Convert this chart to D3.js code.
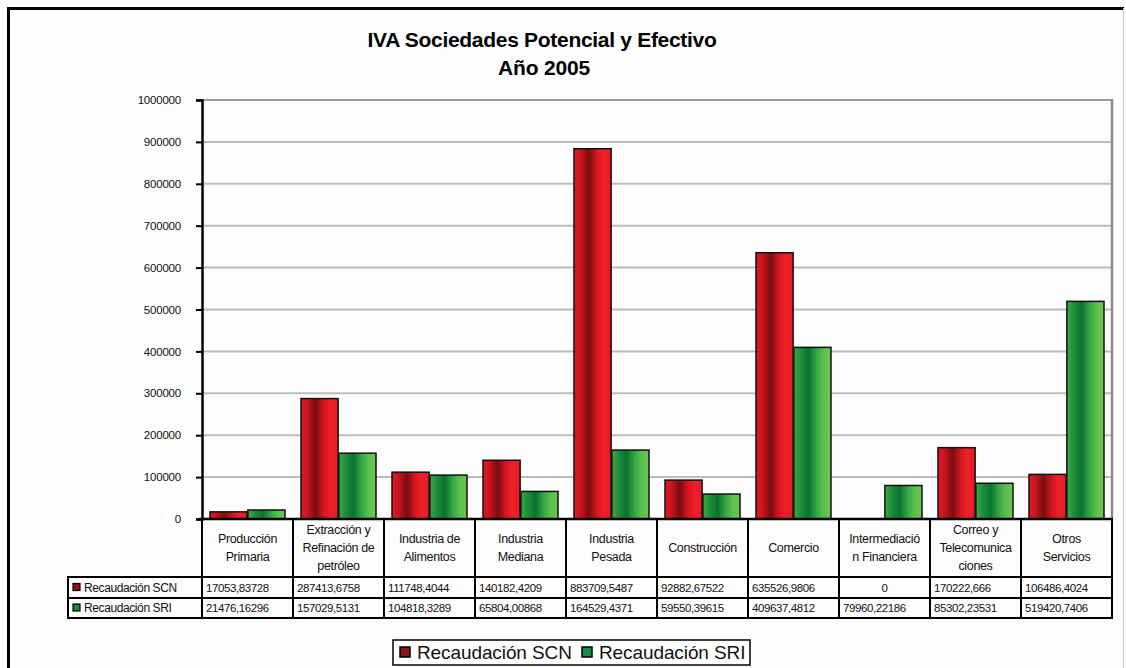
<!DOCTYPE html>
<html>
<head>
<meta charset="utf-8">
<script src="https://cdn.jsdelivr.net/npm/d3@7"></script>
<style>
  html, body { margin: 0; padding: 0; background: #fdfdfd; }
  svg { display: block; font-family: "Liberation Sans", Arial, sans-serif; }
</style>
</head>
<body>
<svg id="chart" width="1126" height="668"></svg>
<script>
// Sectores económicos (texto de cabecera de la tabla, por líneas)
const categories = [
  "Producción Primaria",
  "Extracción y Refinación de petróleo",
  "Industria de Alimentos",
  "Industria Mediana",
  "Industria Pesada",
  "Construcción",
  "Comercio",
  "Intermediación Financiera",
  "Correo y Telecomunicaciones",
  "Otros Servicios"
];
const categoryLines = [
  ["Producción", "Primaria"],
  ["Extracción y", "Refinación de", "petróleo"],
  ["Industria de", "Alimentos"],
  ["Industria", "Mediana"],
  ["Industria", "Pesada"],
  ["Construcción"],
  ["Comercio"],
  ["Intermediació", "n Financiera"],
  ["Correo y", "Telecomunica", "ciones"],
  ["Otros", "Servicios"]
];
const seriesNames = ["Recaudación SCN", "Recaudación SRI"];
const recaudacionSCN = [17053.83728, 287413.6758, 111748.4044, 140182.4209, 883709.5487,
                        92882.67522, 635526.9806, 0, 170222.666, 106486.4024];
const recaudacionSRI = [21476.16296, 157029.5131, 104818.3289, 65804.00868, 164529.4371,
                        59550.39615, 409637.4812, 79960.22186, 85302.23531, 519420.7406];
const yTicks = [0, 100000, 200000, 300000, 400000, 500000, 600000, 700000, 800000, 900000, 1000000];

const svg = d3.select("#chart");
const W = 1126, H = 668;
const plot = { left: 202, right: 1112, top: 100, bottom: 519 };
const table = { labelLeft: 68, headerBottom: 577, row1Bottom: 598, row2Bottom: 618 };

// Degradados horizontales de las barras
const defs = svg.append("defs");
function hGradient(id, stops) {
  const g = defs.append("linearGradient").attr("id", id)
    .attr("x1", "0%").attr("x2", "100%").attr("y1", "0%").attr("y2", "0%");
  stops.forEach(([o, c]) => g.append("stop").attr("offset", o).attr("stop-color", c));
}
hGradient("gradRed", [["0%", "#e01a24"], ["18%", "#c8141c"], ["40%", "#780d11"], ["62%", "#d8161f"], ["80%", "#ee2129"], ["100%", "#e31c25"]]);
hGradient("gradGreen", [["0%", "#3aaa45"], ["18%", "#1f8f38"], ["40%", "#0a7230"], ["62%", "#35a945"], ["80%", "#5cbf4c"], ["100%", "#6dc652"]]);
const fills = ["url(#gradRed)", "url(#gradGreen)"];
const markerFills = ["#8a1318", "#178a45"];

// Marco exterior
svg.append("line").attr("x1", 8.5).attr("x2", 8.5).attr("y1", 7).attr("y2", H)
  .attr("stroke", "#000").attr("stroke-width", 3);
svg.append("line").attr("x1", 7).attr("x2", 1124).attr("y1", 8.5).attr("y2", 8.5)
  .attr("stroke", "#000").attr("stroke-width", 3);
svg.append("line").attr("x1", 1123.5).attr("x2", 1123.5).attr("y1", 8).attr("y2", H)
  .attr("stroke", "#c8c8c8").attr("stroke-width", 1);

// Título
svg.append("text").attr("x", 542).attr("y", 47).attr("text-anchor", "middle")
  .attr("font-size", 21).attr("font-weight", "bold").attr("letter-spacing", -0.3)
  .text("IVA Sociedades Potencial y Efectivo");
svg.append("text").attr("x", 544).attr("y", 75).attr("text-anchor", "middle")
  .attr("font-size", 21).attr("font-weight", "bold").attr("letter-spacing", -0.2)
  .text("Año 2005");

// Escalas
const x0 = d3.scaleBand().domain(categories).range([plot.left, plot.right]).paddingInner(0).paddingOuter(0);
const x1 = d3.scaleBand().domain(seriesNames).range([8, x0.bandwidth() - 8]).paddingInner(0.02);
const y = d3.scaleLinear().domain([0, 1000000]).range([plot.bottom, plot.top]);

// Líneas de cuadrícula
svg.append("g").selectAll("line").data(yTicks.filter(t => t > 0)).join("line")
  .attr("x1", plot.left).attr("x2", plot.right)
  .attr("y1", d => y(d)).attr("y2", d => y(d))
  .attr("stroke", d => d === 1000000 ? "#9a9a9a" : "#bcbcbc").attr("stroke-width", 2);
// Borde derecho del área de trazado
svg.append("line").attr("x1", plot.right).attr("x2", plot.right)
  .attr("y1", plot.top - 1).attr("y2", plot.bottom)
  .attr("stroke", "#8c8c8c").attr("stroke-width", 2.5);

// Barras
const series = [recaudacionSCN, recaudacionSRI];
const bars = [];
categories.forEach((c, i) => series.forEach((s, j) => bars.push({ c, s: seriesNames[j], j, v: s[i] })));
svg.append("g").selectAll("rect").data(bars.filter(d => d.v > 0)).join("rect")
  .attr("x", d => x0(d.c) + x1(d.s))
  .attr("width", x1.bandwidth())
  .attr("y", d => y(d.v))
  .attr("height", d => y(0) - y(d.v))
  .attr("fill", d => fills[d.j])
  .attr("stroke", "#111").attr("stroke-width", 1.5);

// Eje Y
const yAxis = d3.axisLeft(y).tickValues(yTicks).tickSize(6).tickPadding(15).tickFormat(d3.format("d"));
const gy = svg.append("g").attr("transform", `translate(${plot.left},0)`).call(yAxis);
gy.select(".domain").attr("stroke", "#000").attr("stroke-width", 2.5);
gy.selectAll(".tick line").attr("stroke", "#000").attr("stroke-width", 2);
gy.selectAll(".tick text").attr("font-size", 11.5).attr("font-family", "Liberation Sans, Arial, sans-serif")
  .attr("fill", "#111").attr("letter-spacing", -0.2);

// Tabla de datos
const tg = svg.append("g");
const sw = 2;
// Líneas verticales entre categorías
const bounds = categories.map(c => x0(c)).concat([plot.right]);
tg.selectAll("line.v").data(bounds).join("line")
  .attr("x1", d => d).attr("x2", d => d)
  .attr("y1", plot.bottom).attr("y2", table.row2Bottom)
  .attr("stroke", "#000").attr("stroke-width", sw);
// Líneas horizontales
tg.append("line").attr("x1", plot.left - 3).attr("x2", plot.right + 1)
  .attr("y1", plot.bottom).attr("y2", plot.bottom).attr("stroke", "#000").attr("stroke-width", 2.5);
[table.headerBottom, table.row1Bottom, table.row2Bottom].forEach(yy => {
  tg.append("line").attr("x1", table.labelLeft - 1).attr("x2", plot.right + 1)
    .attr("y1", yy).attr("y2", yy).attr("stroke", "#000").attr("stroke-width", sw);
});
tg.append("line").attr("x1", table.labelLeft).attr("x2", table.labelLeft)
  .attr("y1", table.headerBottom).attr("y2", table.row2Bottom)
  .attr("stroke", "#000").attr("stroke-width", sw);

// Texto de cabecera
const headerMid = (plot.bottom + table.headerBottom) / 2;
categories.forEach((c, i) => {
  const lines = categoryLines[i];
  const lh = 18;
  const y0 = headerMid - (lines.length - 1) * lh / 2 + 4;
  tg.append("text").attr("text-anchor", "middle").attr("font-size", 12.5).attr("letter-spacing", -0.35)
    .attr("fill", "#111")
    .selectAll("tspan").data(lines).join("tspan")
    .attr("x", x0(c) + x0.bandwidth() / 2)
    .attr("y", (d, k) => y0 + k * lh)
    .text(d => d);
});

// Filas de valores
const fmt = v => String(v).replace(".", ",");
const rowBounds = [[table.headerBottom, table.row1Bottom], [table.row1Bottom, table.row2Bottom]];
series.forEach((s, j) => {
  const ym = (rowBounds[j][0] + rowBounds[j][1]) / 2 + 4;
  tg.append("rect").attr("x", table.labelLeft + 5).attr("y", ym - 8).attr("width", 7).attr("height", 7)
    .attr("fill", markerFills[j]).attr("stroke", "#000").attr("stroke-width", 1.2);
  tg.append("text").attr("x", table.labelLeft + 16).attr("y", ym).attr("font-size", 12)
    .attr("letter-spacing", -0.4).attr("fill", "#111").text(seriesNames[j]);
  categories.forEach((c, i) => {
    const v = s[i];
    const centered = v === 0;
    tg.append("text")
      .attr("x", centered ? x0(c) + x0.bandwidth() / 2 : x0(c) + 4)
      .attr("y", ym)
      .attr("text-anchor", centered ? "middle" : "start")
      .attr("font-size", 11.5).attr("letter-spacing", -0.4).attr("fill", "#111")
      .text(fmt(v));
  });
});

// Leyenda
const lg = svg.append("g");
lg.append("rect").attr("x", 393).attr("y", 640).attr("width", 357).attr("height", 25)
  .attr("fill", "#fff").attr("stroke", "#000").attr("stroke-width", 1.5);
const legendX = [400, 582];
seriesNames.forEach((n, j) => {
  lg.append("rect").attr("x", legendX[j]).attr("y", 647).attr("width", 10).attr("height", 10)
    .attr("fill", markerFills[j]).attr("stroke", "#000").attr("stroke-width", 1.5);
  lg.append("text").attr("x", legendX[j] + 17).attr("y", 659).attr("font-size", 19)
    .attr("fill", "#111").attr("letter-spacing", -0.1).text(n);
});
</script>
</body>
</html>
